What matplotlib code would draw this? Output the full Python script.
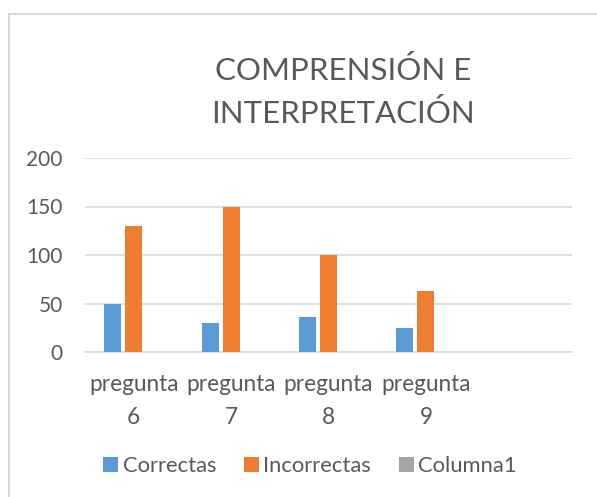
import numpy as np
import matplotlib
matplotlib.use("Agg")
import matplotlib.pyplot as plt
from matplotlib.patches import Rectangle, Patch

# ---- data ----
categories = ["pregunta\n6", "pregunta\n7", "pregunta\n8", "pregunta\n9", ""]
correctas = [50, 30, 36, 25]
incorrectas = [130, 150, 100, 63]
columna1 = [np.nan, np.nan, np.nan, np.nan]
series_names = ["Correctas", "Incorrectas", "Columna1"]
colors = ["#5B9BD5", "#ED7D31", "#A5A5A5"]
yticks = [0, 50, 100, 150, 200]

TEXT = "#595959"
GRID = "#D9D9D9"

plt.rcParams["font.family"] = ["Lato", "DejaVu Sans"]

W, H = 597, 497
fig = plt.figure(figsize=(W / 100, H / 100), dpi=100)

# chart-area border (only top/left edges fall inside the picture)
fig.patches.append(Rectangle((8.5 / W, -0.2), 1.5, 1.2 - 13.5 / H,
                             transform=fig.transFigure, fill=False,
                             edgecolor=GRID, linewidth=1.5))

ax = fig.add_axes([85 / W, 1 - 352 / H, 487 / W, 194 / H])

x = np.arange(len(categories))
step = 0.216
bw = 0.175
for i, (vals, col) in enumerate(zip([correctas, incorrectas, columna1], colors)):
    ax.bar(x[:len(vals)] + (i - 1) * step, vals, width=bw, color=col, zorder=3)

ax.set_xlim(-0.5, len(categories) - 0.5)
ax.set_ylim(0, 200)
ax.set_yticks(yticks)
ax.set_xticks(x)
ax.set_xticklabels(categories, linespacing=1.75)
ax.tick_params(axis="both", length=0, colors=TEXT)
ax.tick_params(axis="x", pad=15.5, labelsize=16.3)
ax.tick_params(axis="y", pad=16, labelsize=15)
ax.yaxis.grid(True, color=GRID, linewidth=1.2, zorder=0)
for s in ["top", "right", "left"]:
    ax.spines[s].set_visible(False)
ax.spines["bottom"].set_color(GRID)
ax.spines["bottom"].set_linewidth(1.2)

fig.text(343 / W, 1 - 92 / H, "COMPRENSIÓN E\nINTERPRETACIÓN", ha="center",
         va="center", fontsize=22.5, color=TEXT, linespacing=1.55)

handles = [Patch(facecolor=c, edgecolor="none") for c in colors]
fig.legend(handles, series_names, loc="center", bbox_to_anchor=(310 / W, 1 - 466 / H),
           ncol=3, frameon=False, fontsize=15.8, labelcolor=TEXT,
           handlelength=0.7, handleheight=0.7, handletextpad=0.2, columnspacing=1.25)

fig.savefig("out.png", dpi=100)
